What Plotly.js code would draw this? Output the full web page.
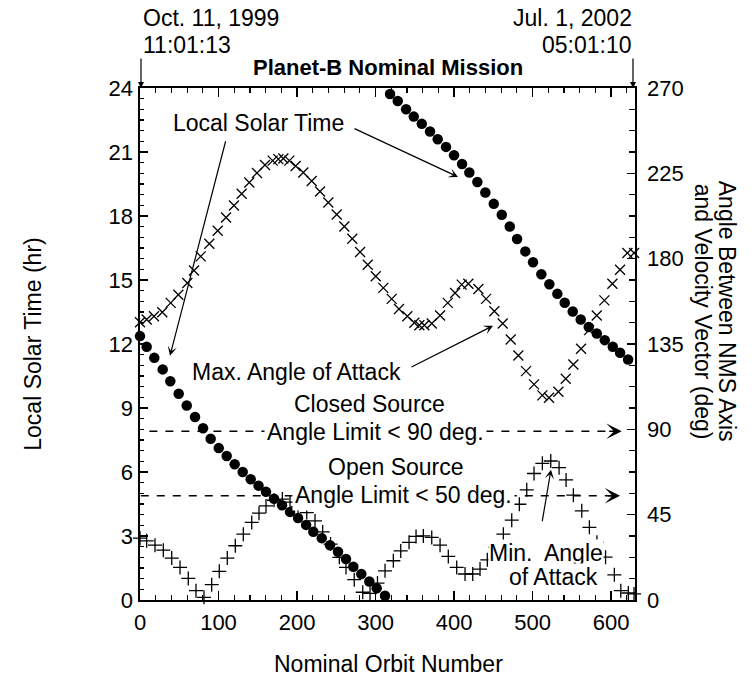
<!DOCTYPE html>
<html>
<head>
<meta charset="utf-8">
<script src="https://cdn.plot.ly/plotly-3.0.1.min.js"></script>
<style>html,body{margin:0;padding:0;background:#fff;}#chart{width:755px;height:688px;}</style>
</head>
<body>
<div id="chart"></div>
<script>
// ---- Data ----
// Local solar time (hr) of the orbit, first pass (before wrapping past 0 hr)
const lstOrbitA = [0, 8.5, 18.2, 28.9, 38.6, 49.3, 59.5, 70.1, 80.3, 90, 100.3, 110.4, 120.6, 130.8, 141, 151, 160.5, 170.7, 180.9, 191.1, 201.3, 211.5, 220.8, 231.5, 242, 252.2, 262.4, 271.7, 281.9, 292.1, 301.5, 312.1];
const lstHoursA = [12.37, 11.87, 11.35, 10.81, 10.25, 9.67, 9.12, 8.58, 8.05, 7.56, 7.12, 6.75, 6.36, 6.0, 5.66, 5.36, 5.07, 4.75, 4.44, 4.13, 3.84, 3.52, 3.2, 2.9, 2.57, 2.26, 1.92, 1.56, 1.22, 0.87, 0.55, 0.2];
// second pass (after wrapping to 24 hr)
const lstOrbitB = [318.5, 328.3, 338.9, 348.7, 358.9, 369.4, 379.2, 389.8, 400, 410.2, 419.5, 429.7, 439.9, 450.6, 460.8, 471, 480.3, 490.8, 500.6, 511.2, 521.4, 531.6, 541, 551.2, 561.4, 571.6, 581.8, 592, 602.2, 611.5, 621.7, 631.8];
const lstHoursB = [23.72, 23.39, 23.0, 22.66, 22.32, 21.96, 21.6, 21.24, 20.85, 20.44, 20.04, 19.59, 19.1, 18.57, 18.06, 17.51, 16.92, 16.34, 15.83, 15.27, 14.8, 14.35, 13.93, 13.52, 13.15, 12.8, 12.49, 12.18, 11.87, 11.59, 11.27, 10.96];

// Max. angle of attack (deg)
const maxOrbit = [0, 8.5, 17.8, 28.4, 39.1, 48.8, 60.3, 68.8, 77.3, 88.3, 99, 109.6, 119.7, 129.5, 139.2, 149, 159.2, 169, 176.2, 182.6, 190.2, 198.3, 208, 218.7, 229.3, 239.9, 250.6, 260.3, 270.4, 280.3, 290.1, 300.3, 309.9, 320.6, 329.9, 340.5, 349.4, 355.8, 362.2, 371.6, 382.2, 392, 401.3, 409.8, 418.2, 431, 440.8, 451.3, 462, 472.2, 481.9, 491.7, 501.9, 512.5, 521, 532.9, 542.3, 552, 561.8, 572, 581.8, 591.5, 601.7, 611.5, 620.8, 629.3];
const maxDeg = [146.5, 147.9, 149.6, 151.7, 156.7, 161.0, 167.2, 173.8, 181.2, 187.9, 194.7, 201.7, 208.0, 214.2, 220.2, 225.2, 229.4, 231.7, 232.5, 232.8, 231.7, 228.9, 225.4, 221.0, 215.4, 209.6, 203.3, 197.0, 190.5, 183.5, 176.8, 170.7, 164.6, 158.8, 153.5, 149.6, 146.2, 144.9, 144.9, 145.8, 150.0, 156.7, 161.9, 166.3, 166.8, 164.0, 158.8, 152.3, 145.8, 137.4, 128.9, 120.7, 113.7, 107.9, 106.7, 109.8, 116.7, 124.2, 132.5, 142.3, 150.0, 158.0, 166.8, 174.2, 183.0, 183.0];

// Min. angle of attack (deg)
const minOrbit = [0, 8.5, 19.1, 29.7, 40.4, 51, 61.5, 71.3, 81.5, 91.3, 101, 111.2, 121.4, 131.6, 142.3, 151.6, 160.5, 170.7, 181.3, 191.1, 201.3, 212.4, 222.9, 232.7, 242.7, 253.9, 262.4, 272.9, 283.7, 293, 302.5, 312.1, 322.7, 332.1, 342.7, 351.6, 360.9, 371.6, 382.2, 392.7, 403.4, 414, 423.8, 433.1, 442.4, 452.2, 462.8, 473.5, 483.2, 492.6, 501.9, 512.5, 523.2, 533.8, 542.7, 552, 562.7, 572.4, 582, 593, 604.2, 612.4, 622, 629.3];
const minDeg = [32.6, 31.2, 28.9, 26.3, 22.1, 17.2, 11.4, 4.9, 1.4, 8.1, 15.1, 22.1, 28.6, 34.7, 40.9, 45.8, 49.6, 52.6, 53.2, 51.6, 49.2, 46.1, 41.7, 35.9, 29.5, 22.5, 17.2, 10.7, 4.1, 3.5, 8.9, 15.4, 20.7, 25.9, 30.4, 33.5, 33.8, 33.0, 28.9, 23.0, 17.2, 13.7, 13.7, 16.3, 21.2, 27.9, 34.7, 42.1, 50.5, 58.1, 66.7, 72.1, 73.3, 69.8, 63.3, 55.3, 47.0, 38.3, 30.5, 22.6, 13.3, 4.9, 3.7, 3.2];

// Source angle limit lines (deg) and their orbit extents [start, end of dashes, arrow tip]
const closedLimitDeg = 89;
const closedLimitOrbits = [12, 606, 613.6];
const openLimitDeg = 55;
const openLimitOrbits = [1, 604, 611.5];

// Axis ticks
const xTicks = [0, 100, 200, 300, 400, 500, 600];
const hourTicks = [0, 3, 6, 9, 12, 15, 18, 21, 24];
const degTicks = [0, 45, 90, 135, 180, 225, 270];

// ---- Layout helpers (pixel -> paper) ----
const L = 140, R = 635, T = 88, B = 600.5;
function px(x) { return (x - L) / (R - L); }
function py(y) { return (B - y) / (B - T); }

const FONT = 'Liberation Sans, Arial, Helvetica, sans-serif';

function label(text, x, y, opts) {
  return Object.assign({
    text: text, xref: 'paper', yref: 'paper', x: px(x), y: py(y),
    xanchor: 'center', yanchor: 'middle', showarrow: false,
    font: {family: FONT, size: 23, color: '#000'}
  }, opts || {});
}
function arrow(tipX, tipY, tailX, tailY, opts) {
  return Object.assign({
    text: '', xref: 'paper', yref: 'paper', x: px(tipX), y: py(tipY),
    ax: tailX - tipX, ay: tailY - tipY, axref: 'pixel', ayref: 'pixel',
    showarrow: true, arrowhead: 2, arrowsize: 1.1, arrowwidth: 1.3, arrowcolor: '#000'
  }, opts || {});
}

const traces = [
  {
    x: minOrbit, y: minDeg, yaxis: 'y', type: 'scatter', mode: 'markers', name: 'Min. Angle of Attack',
    marker: {symbol: 'cross-thin-open', size: 10, color: '#000', line: {color: '#000', width: 1.3}},
    cliponaxis: false
  },
  {
    x: maxOrbit, y: maxDeg, yaxis: 'y', type: 'scatter', mode: 'markers', name: 'Max. Angle of Attack',
    marker: {symbol: 'x-thin-open', size: 10, color: '#000', line: {color: '#000', width: 1.3}},
    cliponaxis: false
  },
  {
    x: lstOrbitA, y: lstHoursA, yaxis: 'y2', type: 'scatter', mode: 'markers', name: 'Local Solar Time',
    marker: {symbol: 'circle', size: 10.5, color: '#000'}, cliponaxis: false
  },
  {
    x: lstOrbitB, y: lstHoursB, yaxis: 'y2', type: 'scatter', mode: 'markers', name: 'Local Solar Time',
    marker: {symbol: 'circle', size: 10.5, color: '#000'}, cliponaxis: false
  }
];

const tickFont = {family: FONT, size: 22, color: '#000'};

const layout = {
  width: 755, height: 688,
  margin: {l: 140, r: 120, t: 88, b: 87.5, pad: 0},
  paper_bgcolor: '#fff', plot_bgcolor: '#fff',
  showlegend: false,
  font: {family: FONT, color: '#000'},
  xaxis: {
    range: [0, 630.5], tickmode: 'array', tickvals: xTicks, ticktext: xTicks.map(String),
    ticks: 'inside', ticklen: 9, tickwidth: 1.5, tickcolor: '#000',
    minor: {dtick: 20, tick0: 0, ticks: 'inside', ticklen: 5, tickwidth: 1.2, tickcolor: '#000'},
    showline: true, linewidth: 1.6, linecolor: '#000', mirror: 'ticks',
    showgrid: false, zeroline: false, tickfont: tickFont, ticklabelstandoff: 2
  },
  yaxis: {
    range: [0, 270], side: 'right', tickmode: 'array', tickvals: degTicks, ticktext: degTicks.map(String),
    ticks: 'inside', ticklen: 8, tickwidth: 1.5, tickcolor: '#000',
    minor: {dtick: 11.25, tick0: 0, ticks: 'inside', ticklen: 6, tickwidth: 1.2, tickcolor: '#000'},
    showline: true, linewidth: 1.6, linecolor: '#000',
    showgrid: false, zeroline: false, tickfont: tickFont, ticklabelstandoff: 6
  },
  yaxis2: {
    range: [0, 24], side: 'left', overlaying: 'y', anchor: 'x',
    tickmode: 'array', tickvals: hourTicks, ticktext: hourTicks.map(String),
    ticks: 'inside', ticklen: 8, tickwidth: 1.5, tickcolor: '#000',
    minor: {dtick: 0.5, tick0: 0, ticks: 'inside', ticklen: 4, tickwidth: 1.2, tickcolor: '#000'},
    showline: true, linewidth: 1.6, linecolor: '#000',
    showgrid: false, zeroline: false, tickfont: tickFont, ticklabelstandoff: 1
  },
  shapes: [
    {type: 'line', xref: 'x', yref: 'y', x0: closedLimitOrbits[0], x1: closedLimitOrbits[1], y0: closedLimitDeg, y1: closedLimitDeg,
     line: {color: '#000', width: 1.6, dash: '8px,8px'}},
    {type: 'line', xref: 'x', yref: 'y', x0: openLimitOrbits[0], x1: openLimitOrbits[1], y0: openLimitDeg, y1: openLimitDeg,
     line: {color: '#000', width: 1.6, dash: '8px,8px'}}
  ],
  annotations: [
    // header
    label('Oct. 11, 1999', 141, 18, {xanchor: 'left', font: {family: FONT, size: 23, color: '#000'}}),
    label('11:01:13', 141, 45, {xanchor: 'left', font: {family: FONT, size: 23, color: '#000'}}),
    label('Jul. 1, 2002', 634, 18, {xanchor: 'right', font: {family: FONT, size: 23, color: '#000'}}),
    label('05:01:10', 634, 45, {xanchor: 'right', font: {family: FONT, size: 23, color: '#000'}}),
    label('<b>Planet-B Nominal Mission</b>', 388, 67, {font: {family: FONT, size: 22, color: '#000'}}),
    arrow(141, 88, 141, 57, {arrowhead: 2, arrowsize: 1, arrowwidth: 1.2}),
    arrow(633, 88, 633, 57, {arrowhead: 2, arrowsize: 1, arrowwidth: 1.2}),
    // axis titles
    label('Nominal Orbit Number', 388, 665),
    label('Local Solar Time (hr)', 33, 345, {textangle: -90}),
    label('Angle Between NMS Axis', 727, 311, {textangle: 90}),
    label('and Velocity Vector (deg)', 703, 312, {textangle: 90}),
    // in-plot labels
    label('Local Solar Time', 258, 123),
    arrow(170, 356, 226, 140, {arrowhead: 3, arrowsize: 1.3, arrowwidth: 1.2}),
    arrow(458, 177, 353, 128, {arrowhead: 3, arrowsize: 1.3, arrowwidth: 1.2}),
    label('Max. Angle of Attack', 296, 372),
    arrow(493, 326, 410, 368, {arrowhead: 3, arrowsize: 1.3, arrowwidth: 1.2}),
    label('Closed Source', 369, 404),
    label('Angle Limit &lt; 90 deg.', 375, 432, {bgcolor: '#fff', borderpad: 2}),
    label('Open Source', 396, 467),
    label('Angle Limit &lt; 50 deg.', 403, 495, {bgcolor: '#fff', borderpad: 2}),
    label('Min.\u00a0 Angle', 546, 553, {bgcolor: '#fff', borderpad: 0}),
    label('of Attack', 553, 577, {bgcolor: '#fff', borderpad: 0}),
    arrow(551, 470, 542, 523, {arrowhead: 3, arrowsize: 1.3, arrowwidth: 1.2}),
    // dashed-line arrowheads
    {text: '', xref: 'x', yref: 'y', x: closedLimitOrbits[2], y: closedLimitDeg, ax: -14, ay: 0, axref: 'pixel', ayref: 'pixel',
     showarrow: true, arrowhead: 3, arrowsize: 1.6, arrowwidth: 1.6, arrowcolor: '#000'},
    {text: '', xref: 'x', yref: 'y', x: openLimitOrbits[2], y: openLimitDeg, ax: -14, ay: 0, axref: 'pixel', ayref: 'pixel',
     showarrow: true, arrowhead: 3, arrowsize: 1.6, arrowwidth: 1.6, arrowcolor: '#000'}
  ]
};

Plotly.newPlot('chart', traces, layout, {staticPlot: true, displayModeBar: false});
</script>
</body>
</html>
